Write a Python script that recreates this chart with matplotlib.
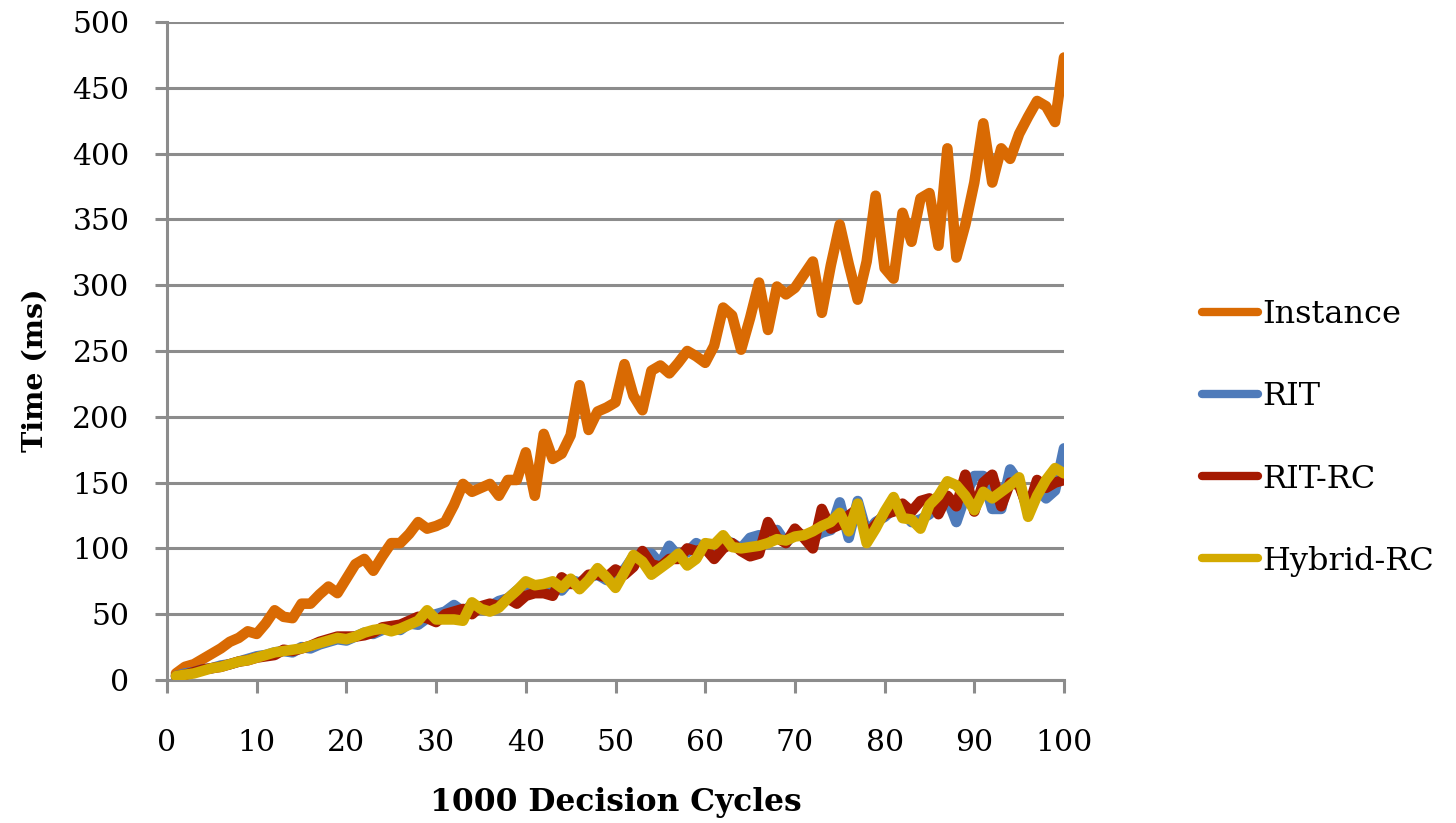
import matplotlib
matplotlib.use("Agg")
import matplotlib.pyplot as plt
import numpy as np

plt.rcParams['font.family'] = ['DejaVu Serif']

cycles = list(range(1, 101))

instance = [5, 10, 12, 16, 20, 24, 29, 32, 37, 35, 43, 53, 48, 47, 58, 58, 65, 71, 66, 77,
            88, 92, 83, 94, 104, 104, 111, 120, 115, 117, 120, 133, 149, 143, 146, 149, 140, 152, 152, 173,
            140, 187, 168, 172, 186, 224, 190, 204, 207, 211, 240, 216, 205, 235, 239, 233, 241, 250, 246, 241,
            254, 283, 277, 251, 275, 302, 266, 299, 293, 298, 308, 318, 279, 315, 346, 316, 289, 318, 368, 313,
            305, 355, 333, 366, 370, 330, 404, 321, 346, 378, 423, 378, 404, 396, 415, 428, 440, 436, 424, 473]

rit = [3, 5, 6, 8, 9, 11, 12, 14, 16, 18, 19, 21, 22, 21, 25, 24, 27, 29, 31, 30,
       33, 36, 35, 38, 40, 38, 43, 42, 47, 50, 52, 57, 52, 57, 54, 56, 60, 62, 68, 73,
       70, 70, 72, 68, 76, 74, 78, 80, 76, 80, 84, 94, 96, 96, 88, 102, 94, 97, 104, 100,
       98, 107, 104, 100, 108, 110, 108, 114, 104, 112, 110, 108, 112, 114, 135, 108, 136, 112, 120, 124,
       130, 128, 120, 122, 126, 138, 138, 120, 140, 155, 155, 130, 130, 160, 150, 128, 145, 138, 144, 176]

rit_rc = [3, 4, 6, 8, 9, 10, 12, 14, 15, 17, 18, 19, 23, 22, 24, 26, 29, 31, 33, 33,
          33, 34, 36, 40, 41, 42, 45, 48, 47, 44, 50, 52, 54, 50, 56, 58, 56, 62, 58, 64,
          66, 66, 64, 78, 73, 73, 80, 80, 78, 84, 80, 86, 98, 88, 86, 92, 92, 100, 98, 100,
          92, 100, 104, 98, 94, 96, 120, 108, 104, 115, 108, 100, 130, 115, 118, 125, 130, 110, 118, 126,
          128, 134, 128, 136, 138, 126, 140, 132, 156, 128, 150, 156, 132, 150, 148, 130, 152, 146, 150, 152]

hybrid_rc = [3, 4, 5, 7, 9, 10, 12, 14, 15, 17, 19, 21, 22, 23, 24, 26, 28, 30, 32, 31,
             33, 36, 38, 39, 37, 39, 42, 45, 53, 46, 46, 46, 45, 59, 54, 52, 55, 62, 68, 75,
             72, 73, 75, 70, 77, 69, 76, 85, 78, 70, 82, 95, 90, 80, 85, 90, 96, 87, 92, 104,
             103, 110, 101, 100, 101, 102, 104, 107, 106, 109, 110, 113, 117, 120, 127, 113, 134, 104, 115, 128,
             139, 123, 122, 115, 133, 140, 151, 148, 140, 129, 143, 138, 143, 148, 154, 124, 140, 152, 161, 157]

series_names = ['Instance', 'RIT', 'RIT-RC', 'Hybrid-RC']
series_colors = ['#D96A03', '#4F7BBA', '#A51A02', '#D4AA00']
x_ticks = list(range(0, 101, 10))
y_ticks = list(range(0, 501, 50))

W, H = 1456, 823
fig = plt.figure(figsize=(W / 100, H / 100), dpi=100)
ax = fig.add_axes([167 / W, 1 - 680 / H, (1064 - 167) / W, (680 - 22) / H])

for vals, name, col in zip([instance, rit, rit_rc, hybrid_rc], series_names, series_colors):
    ax.plot(cycles, vals, color=col, lw=7.6, label=name,
            solid_capstyle='round', solid_joinstyle='round', zorder=3)

ax.set_xlim(0, 100)
ax.set_ylim(0, 500)
ax.set_xticks(x_ticks)
ax.set_yticks(y_ticks)
grid_col = '#8C8C8C'
ax.yaxis.grid(True, color=grid_col, lw=2.2, zorder=1)
ax.set_axisbelow(True)
for s in ['top', 'right']:
    ax.spines[s].set_visible(False)
for s in ['left', 'bottom']:
    ax.spines[s].set_color(grid_col)
    ax.spines[s].set_linewidth(2.2)
ax.tick_params(axis='both', colors=grid_col, length=9, width=2.2, direction='out',
               labelcolor='black', labelsize=21.5)
ax.tick_params(axis='x', pad=26)
ax.tick_params(axis='y', pad=18)

ax.set_xlabel('1000 Decision Cycles', fontsize=22.5, fontweight='bold', va='center')
ax.xaxis.set_label_coords(0.5, (680 - 803) / 658)
ax.set_ylabel('Time (ms)', fontsize=20.5, fontweight='bold', va='center')
ax.yaxis.set_label_coords((35 - 167) / 897, (680 - 370) / 658)

leg = fig.legend(loc='center left', bbox_to_anchor=(1202 / W, 1 - 438 / H), frameon=False,
                 fontsize=23, handlelength=1.75, handletextpad=0.15, labelspacing=1.6,
                 borderpad=0, borderaxespad=0)
for line in leg.get_lines():
    line.set_linewidth(6)
    line.set_solid_capstyle('round')

fig.savefig('out.png', dpi=100)
